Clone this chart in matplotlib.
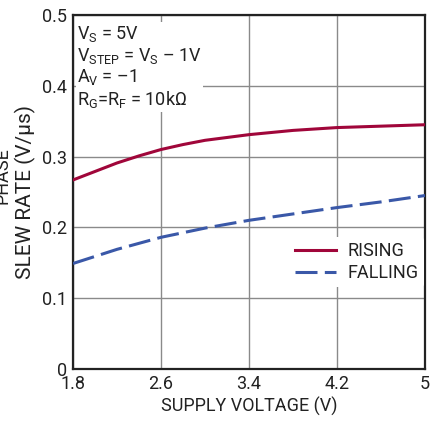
import matplotlib
matplotlib.use("Agg")
import matplotlib.pyplot as plt

plt.rcParams['font.family'] = ['Roboto', 'DejaVu Sans']
plt.rcParams['mathtext.fontset'] = 'custom'
plt.rcParams['mathtext.rm'] = 'Roboto'
plt.rcParams['mathtext.it'] = 'Roboto'

# data
rising_v = [1.8, 2.0, 2.2, 2.4, 2.6, 2.8, 3.0, 3.4, 3.8, 4.2, 4.6, 5.0]
rising = [0.267, 0.279, 0.291, 0.301, 0.310, 0.317, 0.323, 0.331, 0.337,
          0.341, 0.343, 0.345]
falling_v = [1.8, 2.2, 2.6, 3.0, 3.4, 3.8, 4.2, 4.6, 5.0]
falling = [0.149, 0.169, 0.186, 0.199, 0.210, 0.219, 0.228, 0.236, 0.245]

x_ticks = [1.8, 2.6, 3.4, 4.2, 5.0]
x_labels = ["1.8", "2.6", "3.4", "4.2", "5"]
y_ticks = [0, 0.1, 0.2, 0.3, 0.4, 0.5]
y_labels = ["0", "0.1", "0.2", "0.3", "0.4", "0.5"]

fig = plt.figure(figsize=(4.42, 4.21), dpi=100)
ax = fig.add_axes([73 / 442, 1 - 369 / 421, 352 / 442, 354 / 421])

ax.plot(rising_v, rising, color='#a0063a', lw=2.2, label='RISING', zorder=3)
ax.plot(falling_v, falling, color='#3a58a8', lw=2.2, dashes=(7.2, 2.4),
        label='FALLING', zorder=3)

ax.set_xlim(1.8, 5)
ax.set_ylim(0, 0.5)
ax.set_xticks(x_ticks)
ax.set_xticklabels(x_labels)
ax.set_yticks(y_ticks)
ax.set_yticklabels(y_labels)
ax.tick_params(length=0, labelsize=13, pad=4, colors='#222222')
ax.grid(True, color='#8a8a8a', lw=1)
for s in ax.spines.values():
    s.set_linewidth(1.6)
    s.set_color('#222222')

ax.set_xlabel('SUPPLY VOLTAGE (V)', fontsize=13, labelpad=3, color='#222222')
ax.set_ylabel('SLEW RATE (V/µs)', fontsize=15, color='#222222')
ax.yaxis.set_label_coords(-0.106, 0.5)
fig.text(12 / 442, 1 - 176 / 421, 'PHASE', rotation=90, ha='right',
         va='center', fontsize=13, color='#222222')

note = ("$\\mathregular{V_S}$ = 5V\n"
        "$\\mathregular{V_{STEP}}$ = $\\mathregular{V_S}$ – 1V\n"
        "$\\mathregular{A_V}$ = –1\n"
        "$\\mathregular{R_G}$=$\\mathregular{R_F}$ = 10kΩ")
ax.text(0.012, 0.975, note, transform=ax.transAxes, ha='left', va='top',
        fontsize=13, linespacing=1.12, color='#222222', zorder=4,
        bbox=dict(facecolor='white', edgecolor='none', pad=1))

leg = ax.legend(loc='lower right', bbox_to_anchor=(1.012, 0.215), frameon=True,
                fontsize=13, handlelength=2.3, handletextpad=0.6,
                labelspacing=0.2, borderpad=0.3, borderaxespad=0.3)
leg.get_frame().set_edgecolor('none')
leg.get_frame().set_facecolor('white')
leg.get_frame().set_alpha(1)
for t in leg.get_texts():
    t.set_color('#222222')

fig.savefig('out.png', dpi=100)
